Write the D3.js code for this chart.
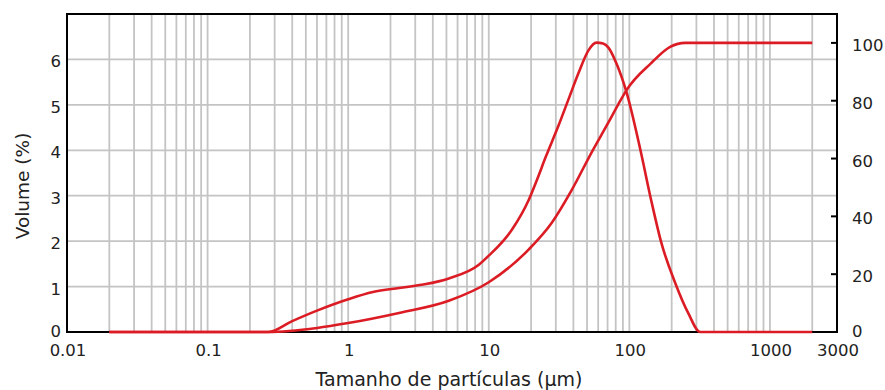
<!DOCTYPE html>
<html>
<head>
<meta charset="utf-8">
<script src="https://cdn.jsdelivr.net/npm/d3@7"></script>
<style>
body{margin:0;background:#fff}
text{font-family:"DejaVu Sans",sans-serif;fill:#222}
</style>
</head>
<body>
<div id="chart"></div>
<script>
// particle size (µm) vs volume (%) - frequency curve
var freqSize = [0.02,0.27,0.4,0.6,1,1.5,2.3,3.5,5.2,8.5,10,14.6,19.2,21.9,25.4,31.4,36.9,43.5,51.2,58.3,65,71,80,95,120,143,169,212,262,319,2000]
var freqVol  = [0,0,0.24,0.47,0.72,0.88,0.97,1.05,1.18,1.48,1.68,2.25,2.9,3.33,3.85,4.55,5.12,5.7,6.2,6.37,6.35,6.26,5.95,5.3,4.0,2.9,1.96,1.08,0.42,0,0]

// cumulative curve (right axis, %)
var cumSize = [0.02,0.27,0.6,1,2.3,5.2,10,19.2,28,38.8,53.7,71,84,95,143,195,250,2000]
var cumVol  = [0,0,1.4,3.1,6.6,10.8,17.2,28.5,37.7,49,62,72.5,79,83.5,93,98.6,100,100]

var xTicks = [0.01,0.1,1,10,100,1000,3000]
var xTickLabels = ["0.01","0.1","1","10","100","1000","3000"]
var yLeftTicks = [0,1,2,3,4,5,6]
var yRightTicks = [0,20,40,60,80,100]

var W = 885, H = 390
var L = 67, R = 837, T = 14, B = 332

var svg = d3.select("#chart").append("svg")
    .attr("width",W)
    .attr("height",H)

var x = d3.scaleLog().domain([0.01,3000]).range([L,R])
var yL = d3.scaleLinear().domain([0,7]).range([B,T])
var yR = d3.scaleLinear().domain([0,110]).range([B,T])

// grid
var gridX = x.ticks().filter(d=>d>0.011 && d<2999)
svg.selectAll(".gx")
    .data(gridX)
    .enter()
    .append("line")
    .attr("x1",d=>x(d))
    .attr("x2",d=>x(d))
    .attr("y1",T)
    .attr("y2",B)
    .attr("stroke","#c4c4c4")
    .attr("stroke-width",1.8)

svg.selectAll(".gy")
    .data(yLeftTicks.filter(d=>d>0))
    .enter()
    .append("line")
    .attr("x1",L)
    .attr("x2",R)
    .attr("y1",d=>yL(d))
    .attr("y2",d=>yL(d))
    .attr("stroke","#c4c4c4")
    .attr("stroke-width",1.8)

// frame
svg.append("rect")
    .attr("x",L)
    .attr("y",T)
    .attr("width",R-L)
    .attr("height",B-T)
    .attr("fill","none")
    .attr("stroke","black")
    .attr("stroke-width",2)

// right axis ticks (inward)
svg.selectAll(".rt")
    .data(yRightTicks)
    .enter()
    .append("line")
    .attr("x1",R-6)
    .attr("x2",R)
    .attr("y1",d=>yR(d))
    .attr("y2",d=>yR(d))
    .attr("stroke","black")
    .attr("stroke-width",2)

// curves
var lineF = d3.line()
    .x((d,i)=>x(freqSize[i]))
    .y(d=>yL(d))
    .curve(d3.curveMonotoneX)
var lineC = d3.line()
    .x((d,i)=>x(cumSize[i]))
    .y(d=>yR(d))
    .curve(d3.curveMonotoneX)

svg.append("path")
    .attr("d",lineC(cumVol))
    .attr("fill","none")
    .attr("stroke","#dc1c24")
    .attr("stroke-width",2.6)

svg.append("path")
    .attr("d",lineF(freqVol))
    .attr("fill","none")
    .attr("stroke","#dc1c24")
    .attr("stroke-width",2.6)

// tick labels
svg.selectAll(".xl")
    .data(xTicks)
    .enter()
    .append("text")
    .text((d,i)=>xTickLabels[i])
    .attr("x",d=>x(d)+1)
    .attr("y",B+24)
    .attr("text-anchor","middle")
    .attr("font-size","16.5")

svg.selectAll(".yl")
    .data(yLeftTicks)
    .enter()
    .append("text")
    .text(d=>d)
    .attr("x",L-6)
    .attr("y",d=>yL(d)+(d==0?5:8))
    .attr("text-anchor","end")
    .attr("font-size","16.5")

svg.selectAll(".yr")
    .data(yRightTicks)
    .enter()
    .append("text")
    .text(d=>d)
    .attr("x",R+15)
    .attr("y",d=>yR(d)+(d==0?5:8))
    .attr("text-anchor","start")
    .attr("font-size","16.5")

// axis titles
svg.append("text")
    .text("Tamanho de partículas (µm)")
    .attr("x",449)
    .attr("y",386)
    .attr("text-anchor","middle")
    .attr("font-size","19")

svg.append("text")
    .text("Volume (%)")
    .attr("transform","translate(29,186) rotate(-90)")
    .attr("text-anchor","middle")
    .attr("font-size","18.5")
</script>
</body>
</html>
